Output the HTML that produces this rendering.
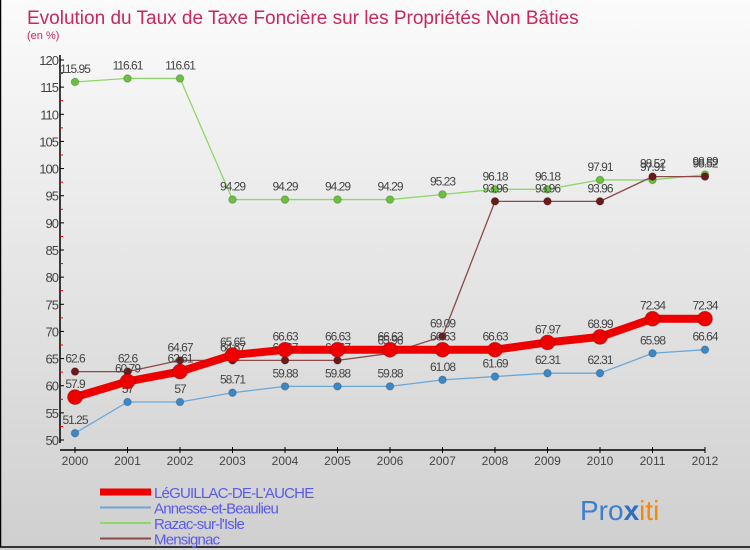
<!DOCTYPE html>
<html><head><meta charset="utf-8"><style>
body{margin:0;width:750px;height:550px;overflow:hidden}
svg{display:block}
text{font-family:"Liberation Sans",sans-serif}
</style></head><body>
<svg id="c" width="750" height="550">
<defs><linearGradient id="bg" x1="0" y1="0" x2="0" y2="1"><stop offset="0" stop-color="#fbfbfb"/><stop offset="1" stop-color="#cfcfcf"/></linearGradient></defs>
<rect x="0" y="0" width="750" height="550" fill="url(#bg)"/>
<rect x="0.5" y="-1" width="760" height="548" fill="none" stroke="#000" stroke-width="1.5"/>
<text x="27" y="24" font-size="19" fill="#c8285a">Evolution du Taux de Taxe Foncière sur les Propriétés Non Bâties</text>
<text x="27" y="39" font-size="11" fill="#c8285a">(en %)</text>
<g id="axes"></g>
<g id="series"></g>
<g id="legend"></g>
<text x="580" y="520" font-size="28" font-family="Liberation Sans"><tspan fill="#3a7fd0">Pro</tspan><tspan fill="#2a6fc0" font-weight="bold">x</tspan><tspan fill="#f08a10">iti</tspan></text>
</svg>
<script>
const years=["2000","2001","2002","2003","2004","2005","2006","2007","2008","2009","2010","2011","2012"];
const yTicks=[50,55,60,65,70,75,80,85,90,95,100,105,110,115,120];
const seriesNames=["LéGUILLAC-DE-L'AUCHE","Annesse-et-Beaulieu","Razac-sur-l'Isle","Mensignac"];
const leguillac=[57.9,60.79,62.61,65.65,66.63,66.63,66.63,66.63,66.63,67.97,68.99,72.34,72.34];
const annesse=[51.25,57,57,58.71,59.88,59.88,59.88,61.08,61.69,62.31,62.31,65.98,66.64];
const razac=[115.95,116.61,116.61,94.29,94.29,94.29,94.29,95.23,96.18,96.18,97.91,97.91,98.89];
const mensignac=[62.6,62.6,64.67,64.67,64.67,64.67,65.96,69.09,93.96,93.96,93.96,98.52,98.52];
const NS="http://www.w3.org/2000/svg";
const X0=75,X1=705,Y0=440,Y1=60,YMIN=50,YMAX=120;
function xs(i){return X0+(X1-X0)*i/(years.length-1);}
function ys(v){return Y0-(v-YMIN)/(YMAX-YMIN)*(Y0-Y1);}
function mk(tag,attrs,parent){const e=document.createElementNS(NS,tag);for(const k in attrs)e.setAttribute(k,attrs[k]);parent.appendChild(e);return e;}
const ax=document.getElementById('axes');
let yl=mk('line',{x1:60,y1:Y1-5,x2:60,y2:Y0+3,stroke:'#000','stroke-width':1.5},ax);


let xl=mk('line',{x1:60,y1:450,x2:X1,y2:450,stroke:'#000','stroke-width':1.5},ax);


yTicks.forEach((v,i)=>{
  const y=ys(v);
  mk('line',{x1:60,y1:y,x2:64,y2:y,stroke:'#000'},ax);
  if(i<yTicks.length-1)mk('line',{x1:60,y1:ys(v+2.5),x2:63,y2:ys(v+2.5),stroke:'#e00'},ax);
  const t=mk('text',{x:58,y:y+5,'font-size':13,'text-anchor':'end',fill:'#444','letter-spacing':'-1'},ax);
  t.textContent=v;
  
  
});
years.forEach((yr,i)=>{
  const x=xs(i);
  mk('line',{x1:x,y1:447,x2:x,y2:453,stroke:'#000'},ax);
  const t=mk('text',{x:x,y:465,'font-size':12,'text-anchor':'middle',fill:'#444'},ax);
  t.textContent=yr;
  
  
});
const sg=document.getElementById('series');
const defs=[
 {d:razac,c:'#8cd86a',m:'#6cc040',w:1.3,r:3.8,n:'razac'},
 {d:mensignac,c:'#8a4a4a',m:'#6a1a1a',w:1.3,r:3.8,n:'mensignac'},
 {d:annesse,c:'#6aa8d8',m:'#3a88c8',w:1.3,r:3.8,n:'annesse'},
 {d:leguillac,c:'#ee0000',m:'#ee0000',w:8,r:7.5,n:'leguillac'}
];
defs.forEach(s=>{
  const g=mk('g',{},sg);
  
  
  const p=mk('polyline',{points:s.d.map((v,i)=>xs(i)+','+ys(v)).join(' '),fill:'none',stroke:s.c,'stroke-width':s.w,'stroke-linejoin':'round'},g);
  
  
  s.d.forEach((v,i)=>{
    const c=mk('circle',{cx:xs(i),cy:ys(v),r:s.r,fill:s.m,stroke:'rgba(0,0,0,0.2)'},g);
    
    
    const t=mk('text',{x:xs(i),y:ys(v)-9,'font-size':12,'text-anchor':'middle',fill:'#444','letter-spacing':'-1'},g);
    t.textContent=String(v);
    
    
  });
});
const lg=document.getElementById('legend');
const lc=['#ee0000','#6aa8d8','#8cd86a','#8a4a4a'],lw=[7,2,2,2];
seriesNames.forEach((n,i)=>{
  const y=492+i*15.5;
  const g=mk('g',{},lg);
  
  
  mk('line',{x1:100,y1:y,x2:151,y2:y,stroke:lc[i],'stroke-width':lw[i]},g);
  const t=mk('text',{x:154,y:y+6,'font-size':15,fill:'#5a5ae8','letter-spacing':'-0.8'},g);
  t.textContent=n;
});
</script>
</body></html>
